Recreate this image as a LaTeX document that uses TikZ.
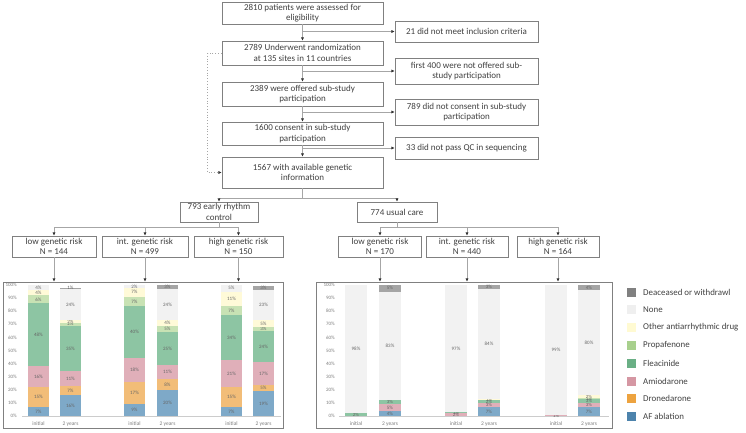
\documentclass[tikz,border=0pt]{standalone}
\usepackage{fontspec}
\setmainfont{Carlito}
\usetikzlibrary{arrows.meta}
\definecolor{boxline}{HTML}{808080}
\definecolor{connline}{HTML}{A6A6A6}
\definecolor{txt}{HTML}{404040}
\definecolor{axtxt}{HTML}{7F7F7F}
% bar colours (bottom to top)
\definecolor{col1}{HTML}{7EA9C8}
\definecolor{col2}{HTML}{F2BD78}
\definecolor{col3}{HTML}{E0AFB9}
\definecolor{col4}{HTML}{8DC5A3}
\definecolor{col5}{HTML}{C8E2B4}
\definecolor{col6}{HTML}{FFFAD8}
\definecolor{col7}{HTML}{F2F2F2}
\definecolor{col8}{HTML}{A5A5A5}
% legend colours
\definecolor{lg1}{HTML}{4D83AC}
\definecolor{lg2}{HTML}{EDA33F}
\definecolor{lg3}{HTML}{D597A3}
\definecolor{lg4}{HTML}{6AAF85}
\definecolor{lg5}{HTML}{A8D08D}
\definecolor{lg6}{HTML}{FFFAD2}
\definecolor{lg7}{HTML}{EFEFEF}
\definecolor{lg8}{HTML}{808080}
\newcommand\stackbar[3]{%
  \xdef\cumv{0}%
  \foreach \v [count=\i] in {#3}{%
    \ifnum\v>0
      \pgfmathsetmacro\ya{416-1.31*\cumv}%
      \pgfmathsetmacro\yb{416-1.31*(\cumv+\v)}%
      \fill[fill=col\i] (#1,\ya) rectangle ({#1+#2},\yb);
      \node[pct] at ({#1+#2/2},{(\ya+\yb)/2}) {\v\%};
      \pgfmathsetmacro\cumn{\cumv+\v}%
      \xdef\cumv{\cumn}%
    \fi
  }%
}
\begin{document}
\begin{tikzpicture}[x=1pt,y=-1pt,
  fbox/.style={draw=boxline, line width=0.7pt, fill=white, align=center,
    font=\fontsize{9}{10.5}\selectfont, text=txt, inner sep=0pt},
  conn/.style={draw=connline, line width=0.7pt,
    -{Latex[length=3.2pt,width=3.2pt,color=black!80]}},
  dotconn/.style={draw=connline, line width=0.8pt, dotted,
    -{Latex[length=3.2pt,width=3.2pt,color=black!80]}},
  panel/.style={draw=boxline, line width=0.7pt, inner sep=0pt},
  pct/.style={font=\fontsize{5}{5}\selectfont, text=black!60, inner sep=0pt},
  axl/.style={font=\fontsize{5}{5}\selectfont, text=axtxt, inner sep=0pt, anchor=east},
  catl/.style={font=\fontsize{5.5}{6}\selectfont, text=axtxt, inner sep=0pt},
  legl/.style={font=\fontsize{8.9}{10}\selectfont, text=txt, inner sep=0pt, anchor=west}
]
\useasboundingbox (0,0) rectangle (746,432);
\fill[white] (0,0) rectangle (746,432);

% ---------- flowchart ----------
\node[fbox, minimum width=161pt, minimum height=22pt] (b1) at (302.5,13) {2810 patients were assessed for\\eligibility};
\node[fbox, minimum width=161pt, minimum height=24pt] (b2) at (302.5,53) {2789 Underwent randomization\\at 135 sites in 11 countries};
\node[fbox, minimum width=161pt, minimum height=24pt] (b3) at (302.5,94) {2389 were offered sub-study\\participation};
\node[fbox, minimum width=161pt, minimum height=23pt] (b4) at (302.5,133.5) {1600 consent in sub-study\\participation};
\node[fbox, minimum width=161pt, minimum height=31pt] (b5) at (302.5,172.5) {1567 with available genetic\\information};

\node[fbox, minimum width=143pt, minimum height=21pt] (r1) at (466.5,31.5) {21 did not meet inclusion criteria};
\node[fbox, minimum width=143pt, minimum height=26pt] (r2) at (466.5,71) {first 400 were not offered sub-\\study participation};
\node[fbox, minimum width=143pt, minimum height=26pt] (r3) at (466.5,112) {789 did not consent in sub-study\\participation};
\node[fbox, minimum width=143pt, minimum height=22pt] (r4) at (466.5,148) {33 did not pass QC in sequencing};

\draw[conn] (b1.south) -- (b2.north);
\draw[conn] (b2.south) -- (b3.north);
\draw[conn] (b3.south) -- (b4.north);
\draw[conn] (b4.south) -- (b5.north);
\draw[conn] (b1.south |- r1.west) -- (r1.west);
\draw[conn] (b2.south |- r2.west) -- (r2.west);
\draw[conn] (b3.south |- r3.west) -- (r3.west);
\draw[conn] (b4.south |- r4.west) -- (r4.west);
\draw[dotconn] (b2.west) -- ++(-14,0) |- (b5.west);

% ---------- arms ----------
\node[fbox, minimum width=78pt, minimum height=20pt] (erc) at (219,212) {793 early rhythm\\control};
\node[fbox, minimum width=80pt, minimum height=20pt] (uc) at (397,212) {774 usual care};
\draw[connline, line width=0.7pt] (b5.south) -- ++(0,10) coordinate (j1);
\draw[conn] (j1) -| (erc.north);
\draw[conn] (j1) -| (uc.north);

% ---------- risk groups ----------
\node[fbox, minimum width=84pt, minimum height=21pt] (l1) at (54,246.5) {low genetic risk\\N = 144};
\node[fbox, minimum width=86pt, minimum height=21pt] (l2) at (145,246.5) {int. genetic risk\\N = 499};
\node[fbox, minimum width=89pt, minimum height=21pt] (l3) at (238.5,246.5) {high genetic risk\\N = 150};
\node[fbox, minimum width=83pt, minimum height=21pt] (u1) at (380,246.5) {low genetic risk\\N = 170};
\node[fbox, minimum width=82pt, minimum height=21pt] (u2) at (467,246.5) {int. genetic risk\\N = 440};
\node[fbox, minimum width=82pt, minimum height=21pt] (u3) at (558,246.5) {high genetic risk\\N = 164};

\draw[connline, line width=0.7pt] (erc.south) -- ++(0,5) coordinate (j2);
\draw[conn] (j2) -| (l1.north);
\draw[conn] (j2) -| (l2.north);
\draw[conn] (j2) -| (l3.north);
\draw[connline, line width=0.7pt] (uc.south) -- ++(0,5) coordinate (j3);
\draw[conn] (j3) -| (u1.north);
\draw[conn] (j3) -| (u2.north);
\draw[conn] (j3) -| (u3.north);

% ---------- panels ----------
\node[panel, minimum width=280pt, minimum height=146pt] (lp) at (143,355) {};
\node[panel, minimum width=296pt, minimum height=146pt] (rp) at (464,355) {};
\draw[conn] (l1.south) -- (l1.south |- lp.north);
\draw[conn] (l2.south) -- (l2.south |- lp.north);
\draw[conn] (l3.south) -- (l3.south |- lp.north);
\draw[conn] (u1.south) -- (u1.south |- rp.north);
\draw[conn] (u2.south) -- (u2.south |- rp.north);
\draw[conn] (u3.south) -- (u3.south |- rp.north);

% axes
\foreach \p in {0,10,...,100}{
  \node[axl] at (17,{416-1.31*\p}) {\p\%};
  \node[axl] at (335,{416-1.31*\p}) {\p\%};
}
\draw[black!20, line width=0.5pt] (22,416) -- (281,416);
\draw[black!20, line width=0.5pt] (339,416) -- (609,416);

% left bars
\stackbar{28}{21}{7,15,16,48,6,4,4,0}
\stackbar{60}{21}{16,7,11,35,2,2,24,1}
\stackbar{124}{21}{9,17,18,40,7,7,2,0}
\stackbar{157}{21}{20,8,11,25,5,4,24,3}
\stackbar{221}{21}{7,15,21,34,7,11,5,0}
\stackbar{253}{21}{19,5,17,24,3,5,23,3}
% right bars
\stackbar{345}{22}{0,0,0,2,0,0,98,0}
\stackbar{379}{22}{4,0,5,3,0,0,83,5}
\stackbar{445}{22}{0,0,2,1,0,0,97,0}
\stackbar{478}{22}{7,0,3,2,0,1,84,3}
\stackbar{545}{22}{0,0,1,0,0,0,99,0}
\stackbar{578}{22}{7,0,3,3,1,2,80,4}

\foreach \x in {28,124,221}{ \node[catl] at ({\x+10.5},424) {initial}; }
\foreach \x in {60,157,253}{ \node[catl] at ({\x+10.5},424) {2 years}; }
\foreach \x in {345,445,545}{ \node[catl] at ({\x+11},424) {initial}; }
\foreach \x in {379,478,578}{ \node[catl] at ({\x+11},424) {2 years}; }

% ---------- legend ----------
\foreach \lab/\c [count=\i] in {Deaceased or withdrawl/lg8, None/lg7, Other antiarrhythmic drug/lg6, Propafenone/lg5, Fleacinide/lg4, Amiodarone/lg3, Dronedarone/lg2, AF ablation/lg1}{
  \pgfmathsetmacro\ly{292+17.8*(\i-1)}
  \fill[fill=\c] (627,{\ly-4.5}) rectangle (636,{\ly+4.5});
  \node[legl] (leg\i) at (643,\ly) {\lab};
}
\end{tikzpicture}
\end{document}
